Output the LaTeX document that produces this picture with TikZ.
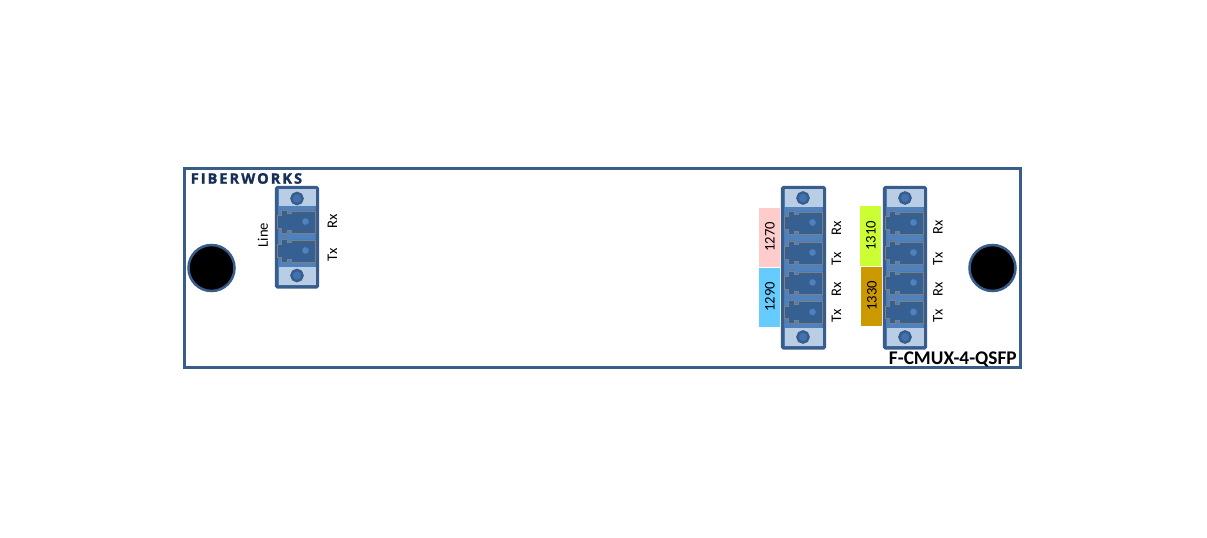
\documentclass[tikz,border=0pt]{standalone}
\usepackage{fontspec}
\setmainfont{Carlito}
\newfontfamily\logofont[LetterSpace=14,Ligatures=NoCommon,BoldFeatures={FakeBold=1.2}]{Open Sans}
\definecolor{edge}{HTML}{385D8A}
\definecolor{capfill}{HTML}{B9CDE5}
\definecolor{portbg}{HTML}{4F81BD}
\definecolor{portbody}{HTML}{376092}
\definecolor{portline}{HTML}{7F7F7F}
\definecolor{screw}{HTML}{3F72AF}
\definecolor{logo}{HTML}{152F55}
\definecolor{lpink}{HTML}{FFCCCC}
\definecolor{lblue}{HTML}{66CCFF}
\definecolor{llime}{HTML}{CCFF33}
\definecolor{lgold}{HTML}{CC9900}
\tikzset{
  x=0.75pt,y=-0.75pt,
  panel/.style={draw=edge,line width=1.9pt,fill=white},
  modframe/.style={draw=edge,line width=2.4pt,fill=portbg,rounded corners=0.8pt},
  capbox/.style={fill=capfill,draw=none},
  screwdot/.style={circle,fill=screw,draw=edge,line width=1.8pt,minimum size=8.4pt,inner sep=0pt},
  hole/.style={circle,fill=black,draw=edge,line width=1.9pt,minimum size=34.5pt,inner sep=0pt},
  portshape/.style={fill=portbody,draw=portline,line width=0.7pt},
  pin/.style={circle,fill=portbg,draw=none,minimum size=5pt,inner sep=0pt},
  vlabel/.style={rotate=90,font=\fontsize{11pt}{13pt}\selectfont,text=black,inner sep=0pt},
  pics/fport/.style={code={
    \draw[portshape] (-19,-6) -- (-15,-6) -- (-15,-11.5) -- (-9,-11.5) -- (-9,-8) -- (-5,-8) -- (-5,-10.5)
      -- (19,-10.5) -- (19,11.5) -- (-5,11.5) -- (-5,8.5) -- (-9,8.5) -- (-9,11.5) -- (-15,11.5) -- (-15,6.5) -- (-19,6.5) -- cycle;
    \node[pin] at (9,0) {};
  }}
}
\begin{document}
\begin{tikzpicture}
\useasboundingbox (0,0) rectangle (1207,538);
\fill[white] (0,0) rectangle (1207,538);
\draw[panel] (184.5,168.5) rectangle (1020.5,367.5);
\node[hole] (holeL) at (211.5,268) {};
\node[hole] (holeR) at (992.5,268) {};
\node[anchor=west,inner sep=0pt,text=logo] (brand) at (190.5,178.5) {\logofont\fontsize{10.9pt}{12pt}\selectfont\bfseries FIBERWORKS};
\node[anchor=east,inner sep=0pt] (model) at (1017,359) {\fontsize{14.5pt}{16pt}\selectfont\bfseries F-CMUX-4-QSFP};

% Line module
\draw[modframe] (276.5,187.5) rectangle (317.5,287);
\fill[capbox] (278.5,189.5) rectangle (315.5,206);
\fill[capbox] (278.5,267.5) rectangle (315.5,285);
\node[screwdot] (s1) at (297,198.5) {};
\node[screwdot] (s2) at (297,275.5) {};
\pic at (296.5,221.5) {fport};
\pic at (296.5,250.5) {fport};
\node[vlabel] (l1) at (263,235) {Line};
\node[vlabel] (l2) at (332.5,221.5) {Rx};
\node[vlabel] (l3) at (332.5,255) {Tx};

% Middle module
\draw[modframe] (782.5,187.5) rectangle (824.5,348);
\fill[capbox] (784.5,189.5) rectangle (822.5,207);
\fill[capbox] (784.5,328) rectangle (822.5,346);
\node[screwdot] (s3) at (803,198) {};
\node[screwdot] (s4) at (803,337) {};
\pic at (803.5,222.5) {fport};
\pic at (803.5,252.5) {fport};
\pic at (803.5,282.5) {fport};
\pic at (803.5,312) {fport};

% Right module
\draw[modframe] (884.5,187.5) rectangle (925.5,348);
\fill[capbox] (886.5,189.5) rectangle (923.5,207);
\fill[capbox] (886.5,328) rectangle (923.5,346);
\node[screwdot] (s5) at (905,198) {};
\node[screwdot] (s6) at (905,337) {};
\pic at (904.5,222.5) {fport};
\pic at (904.5,252.5) {fport};
\pic at (904.5,282.5) {fport};
\pic at (904.5,312) {fport};

% Wavelength chips
\fill[lpink] (759,208) rectangle (780,267);
\fill[lblue] (759,268) rectangle (780,327);
\fill[llime] (860,206) rectangle (881,266);
\fill[lgold] (861,267) rectangle (882,326);
\node[vlabel] (c1) at (770,237) {1270};
\node[vlabel] (c2) at (770,297) {1290};
\node[vlabel] (c3) at (871,236) {1310};
\node[vlabel] (c4) at (872,296) {1330};

% Port labels
\node[vlabel] (m1) at (836.5,228) {Rx};
\node[vlabel] (m2) at (836.5,259) {Tx};
\node[vlabel] (m3) at (836.5,289) {Rx};
\node[vlabel] (m4) at (836.5,316) {Tx};
\node[vlabel] (r1) at (938,227) {Rx};
\node[vlabel] (r2) at (938,259) {Tx};
\node[vlabel] (r3) at (938,289) {Rx};
\node[vlabel] (r4) at (938,316) {Tx};
\end{tikzpicture}
\end{document}
